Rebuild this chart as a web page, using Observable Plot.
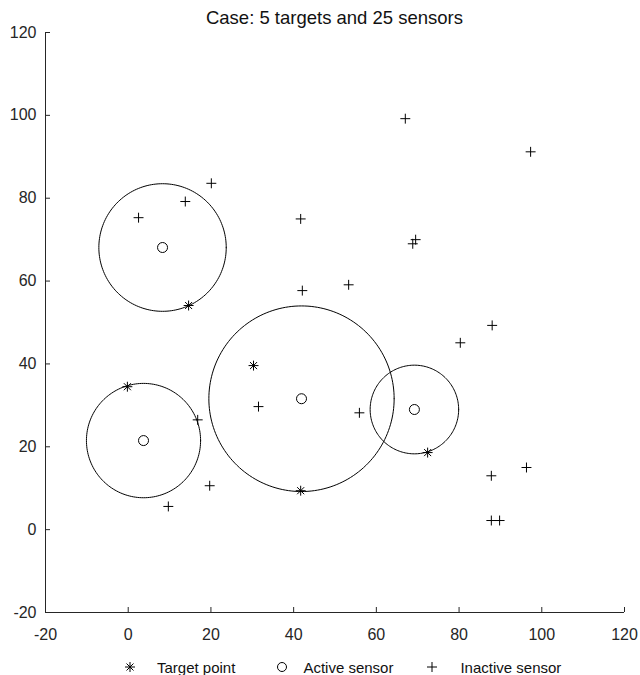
<!DOCTYPE html>
<html><head><meta charset="utf-8">
<script src="https://cdn.jsdelivr.net/npm/d3@7"></script>
<script src="https://cdn.jsdelivr.net/npm/@observablehq/plot@0.6"></script>
<style>
body{margin:0;background:#fff;font-family:"Liberation Sans",Arial,sans-serif;}
#wrap{position:relative;width:640px;height:675px;}
#title{position:absolute;left:45px;width:579px;top:9px;text-align:center;font-size:18.5px;line-height:18px;color:#111;}
#legend{position:absolute;left:0;top:640px;width:640px;height:35px;display:flex;align-items:center;padding-top:19px;padding-left:124px;box-sizing:border-box;font-size:15px;line-height:15px;color:#111;}
#legend svg{display:block;flex:none;}
#legend .lbl{white-space:nowrap;}
</style></head><body>
<div id="wrap"><div id="chart"></div><div id="title"></div><div id="legend"></div></div>
<script>
const titleText = "Case: 5 targets and 25 sensors";
const targetX = [14.6, -0.2, 30.3, 41.7, 72.4];
const targetY = [54.1, 34.5, 39.6, 9.4, 18.6];
const activeX = [8.3, 3.7, 41.9, 69.2];
const activeY = [68.1, 21.5, 31.6, 29.0];
const activeR = [15.4, 13.8, 22.4, 10.7];
const inactiveX = [2.5, 13.8, 20.1, 41.7, 42.1, 53.3, 67.0, 97.3, 68.8, 69.5, 88.0, 80.3, 16.8, 31.5, 55.9, 19.7, 9.7, 87.8, 96.3, 87.8, 89.8];
const inactiveY = [75.3, 79.2, 83.6, 75.0, 57.7, 59.1, 99.2, 91.2, 69.0, 70.0, 49.3, 45.1, 26.5, 29.7, 28.2, 10.6, 5.6, 13.0, 15.0, 2.2, 2.2];
const xTicks = [-20, 0, 20, 40, 60, 80, 100, 120];
const yTicks = [-20, 0, 20, 40, 60, 80, 100, 120];
const legendLabels = ["Target point", "Active sensor", "Inactive sensor"];

const targets = targetX.map((x, i) => ({x, y: targetY[i]}));
const actives = activeX.map((x, i) => ({x, y: activeY[i], r: activeR[i]}));
const inactives = inactiveX.map((x, i) => ({x, y: inactiveY[i]}));
const rings = actives.flatMap((a, id) =>
  d3.range(0, 361, 2).map(t => ({id, x: a.x + a.r * Math.cos(t * Math.PI / 180), y: a.y + a.r * Math.sin(t * Math.PI / 180)})));

const W = 640, H = 675, ML = 45, MR = 16, MT = 32, MB = 63;
const axisColor = "#262626";
const chart = Plot.plot({
  width: W, height: H,
  marginLeft: ML, marginRight: MR, marginTop: MT, marginBottom: MB,
  x: {domain: [-20, 120]},
  y: {domain: [-20, 120]},
  style: {fontFamily: "Liberation Sans, Arial, sans-serif", fontSize: "16px", color: axisColor, background: "#fff"},
  marks: [
    Plot.ruleX([-20], {stroke: axisColor, strokeWidth: 1}),
    Plot.ruleY([-20], {stroke: axisColor, strokeWidth: 1}),
    Plot.tickX(xTicks, {x: d => d, stroke: axisColor, strokeWidth: 1, insetTop: H - MT - MB - 5}),
    Plot.tickY(yTicks, {y: d => d, stroke: axisColor, strokeWidth: 1, insetRight: W - ML - MR - 5}),
    Plot.axisX(xTicks, {tickSize: 0, tickPadding: 16, label: null, tickFormat: d => String(d), fontSize: 16, fill: axisColor}),
    Plot.axisY(yTicks, {tickSize: 0, tickPadding: 9, label: null, tickFormat: d => String(d), fontSize: 16, fill: axisColor}),
    Plot.line(rings, {x: "x", y: "y", z: "id", stroke: "#000", strokeWidth: 1}),
    Plot.dot(actives, {x: "x", y: "y", r: 5, stroke: "#000", strokeWidth: 1, fill: "none"}),
    Plot.dot(inactives, {x: "x", y: "y", symbol: "plus", r: 3.3, stroke: "#000", strokeWidth: 1}),
    Plot.dot(targets, {x: "x", y: "y", symbol: "plus", r: 3.3, stroke: "#000", strokeWidth: 1}),
    Plot.dot(targets, {x: "x", y: "y", symbol: "times", r: 3.3, stroke: "#000", strokeWidth: 1})
  ]
});
document.getElementById("chart").append(chart);
document.getElementById("title").textContent = titleText;

const ns = "http://www.w3.org/2000/svg";
const markerPaths = [
  "M1,6H11M6,1V11M2.5,2.5L9.5,9.5M9.5,2.5L2.5,9.5",
  null,
  "M1,6H11M6,1V11"
];
const gapsBefore = [0, 41, 33];
const gapsAfter = [21, 15, 22];
const leg = document.getElementById("legend");
legendLabels.forEach((lab, i) => {
  const s = document.createElementNS(ns, "svg");
  s.setAttribute("width", 12); s.setAttribute("height", 12);
  s.style.marginLeft = gapsBefore[i] + "px";
  s.style.marginRight = gapsAfter[i] + "px";
  if (markerPaths[i]) {
    const p = document.createElementNS(ns, "path");
    p.setAttribute("d", markerPaths[i]); p.setAttribute("stroke", "#000"); p.setAttribute("fill", "none");
    s.append(p);
  } else {
    const c = document.createElementNS(ns, "circle");
    c.setAttribute("cx", 6); c.setAttribute("cy", 6); c.setAttribute("r", 4.5);
    c.setAttribute("stroke", "#000"); c.setAttribute("fill", "none");
    s.append(c);
  }
  const t = document.createElement("span");
  t.className = "lbl"; t.textContent = lab;
  leg.append(s, t);
});
</script>
</body></html>
